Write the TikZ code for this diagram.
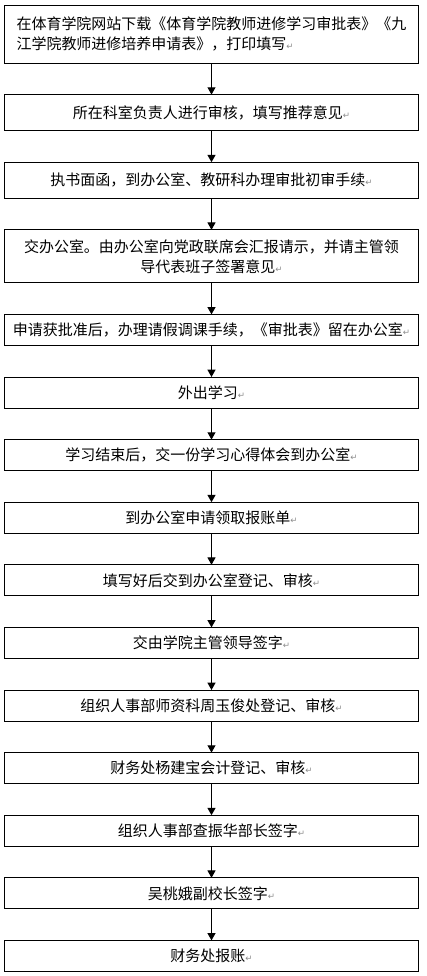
\documentclass[tikz,border=0pt]{standalone}
\usepackage{fontspec}
\setmainfont{Noto Sans CJK SC}
\newfontfamily\symfont{DejaVu Sans}
\usepackage{tikz}
\usetikzlibrary{arrows.meta,positioning}
\newcommand{\retmark}{{\symfont\fontsize{6.5}{6.5}\selectfont\color{black!45}↵}}

\begin{document}
\begin{tikzpicture}[
  x=0.75pt,y=-0.75pt,
  font=\fontsize{11.25}{15}\selectfont,
  stage/.style={draw,line width=0.75pt,minimum width=310.5pt,outer sep=0pt,
                minimum height=23.25pt,inner xsep=2pt,inner ysep=1pt,align=center},
  flow/.style={-{Triangle[length=5.5pt,width=6pt]},line width=0.75pt}
]
\useasboundingbox (0,0) rectangle (426,976);

\node[stage,align=left,minimum height=43.5pt] (s1) at (211.5,34)
  {在体育学院网站下载《体育学院教师进修学习审批表》《九\\江学院教师进修培养申请表》，打印填写\retmark};
\node[stage,minimum height=27pt,below=23.7pt of s1] (s2) {所在科室负责人进行审核，填写推荐意见\retmark};
\node[stage,minimum height=27pt,below=23.7pt of s2] (s3) {执书面函，到办公室、教研科办理审批初审手续\retmark};
\node[stage,minimum height=39.75pt,below=23.7pt of s3] (s4)
  {交办公室。由办公室向党政联席会汇报请示，并请主管领\\导代表班子签署意见\retmark};
\node[stage,below=23.7pt of s4] (s5) {申请获批准后，办理请假调课手续，《审批表》留在办公室\retmark};
\node[stage,below=23.7pt of s5] (s6) {外出学习\retmark};
\node[stage,below=23.7pt of s6] (s7) {学习结束后，交一份学习心得体会到办公室\retmark};
\node[stage,below=23.7pt of s7] (s8) {到办公室申请领取报账单\retmark};
\node[stage,below=23.7pt of s8] (s9) {填写好后交到办公室登记、审核\retmark};
\node[stage,below=23.7pt of s9] (s10) {交由学院主管领导签字\retmark};
\node[stage,below=23.7pt of s10] (s11) {组织人事部师资科周玉俊处登记、审核\retmark};
\node[stage,below=23.7pt of s11] (s12) {财务处杨建宝会计登记、审核\retmark};
\node[stage,below=23.7pt of s12] (s13) {组织人事部查振华部长签字\retmark};
\node[stage,below=23.7pt of s13] (s14) {吴桃娥副校长签字\retmark};
\node[stage,below=23.7pt of s14] (s15) {财务处报账\retmark};

\draw[flow] (s1) -- (s2); \draw[flow] (s2) -- (s3); \draw[flow] (s3) -- (s4);
\draw[flow] (s4) -- (s5); \draw[flow] (s5) -- (s6); \draw[flow] (s6) -- (s7);
\draw[flow] (s7) -- (s8); \draw[flow] (s8) -- (s9); \draw[flow] (s9) -- (s10);
\draw[flow] (s10) -- (s11); \draw[flow] (s11) -- (s12); \draw[flow] (s12) -- (s13);
\draw[flow] (s13) -- (s14); \draw[flow] (s14) -- (s15);
\end{tikzpicture}
\end{document}
